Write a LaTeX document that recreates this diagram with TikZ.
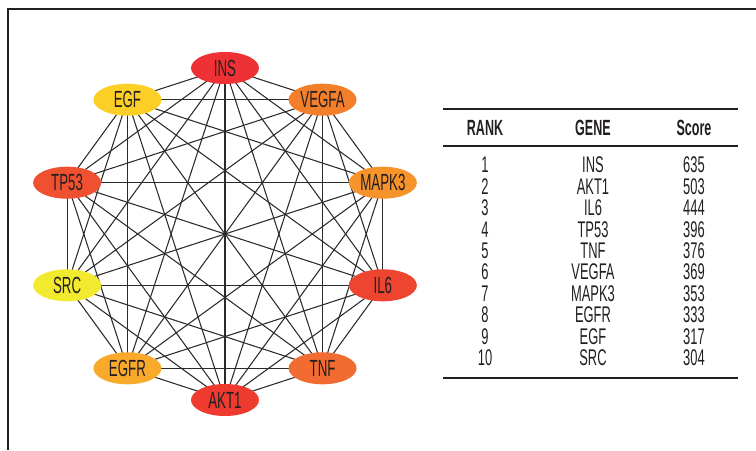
\documentclass[tikz,border=0pt]{standalone}
\usepackage{fontspec}
\setmainfont{Liberation Sans}[FakeStretch=0.57]
\usepackage{xcolor}
\usepackage{tikz}
\usetikzlibrary{shapes.geometric,backgrounds}

\definecolor{inkgray}{HTML}{231F20}
\definecolor{edgegray}{HTML}{2B2B2B}
\definecolor{cINS}{HTML}{EE3134}
\definecolor{cAKT}{HTML}{EE3A2F}
\definecolor{cIL}{HTML}{EE4530}
\definecolor{cTP}{HTML}{EF502F}
\definecolor{cTNF}{HTML}{F26B30}
\definecolor{cVEG}{HTML}{F47F2A}
\definecolor{cMAP}{HTML}{F7932B}
\definecolor{cEGR}{HTML}{FAAA2B}
\definecolor{cEGF}{HTML}{FCCF26}
\definecolor{cSRC}{HTML}{F2EA2E}

\tikzset{
  gene/.style={ellipse, inner sep=0pt, minimum width=51pt, minimum height=24pt,
    text=inkgray, font=\fontsize{17.5}{20}\selectfont},
  link/.style={edgegray, line width=0.8pt},
  cell/.style={inner sep=0pt, text=inkgray, font=\fontsize{17}{19}\selectfont},
  head/.style={cell, font=\fontsize{16.5}{19}\selectfont\bfseries},
  rule/.style={inkgray, line width=1.6pt}
}

\begin{document}
\begin{tikzpicture}[x=0.75pt, y=-0.75pt]
  \useasboundingbox (0,0) rectangle (756,450);
  \draw [inkgray, line width=0.9pt] (8,450) -- (8,9) -- (756,9);

  % network
  \foreach \name/\ang/\col [count=\i] in {INS/90/cINS, VEGFA/54/cVEG,
      MAPK3/18/cMAP, IL6/-18/cIL, TNF/-54/cTNF, AKT1/-90/cAKT,
      EGFR/-126/cEGR, SRC/-162/cSRC, TP53/162/cTP, EGF/126/cEGF}
    \node [gene, fill=\col] (g\i) at ({225+166*cos(\ang)}, {234-166*sin(\ang)}) {\name};
  \begin{pgfonlayer}{background}
    \foreach \i in {1,...,9} {
      \pgfmathtruncatemacro\nxt{\i+1}
      \foreach \j in {\nxt,...,10}
        \draw [link] (g\i.center) -- (g\j.center);
    }
  \end{pgfonlayer}

  % table
  \draw [rule] (443,109) -- (738,109);
  \draw [rule] (443,146) -- (738,146);
  \draw [rule] (443,378) -- (738,378);
  \node [head] (hrank) at (485,128) {RANK};
  \node [head] (hgene) at (593,128) {GENE};
  \node [head] (hscore) at (694,128) {Score};
  \foreach \r/\g/\s in {1/INS/635, 2/AKT1/503, 3/IL6/444, 4/TP53/396,
      5/TNF/376, 6/VEGFA/369, 7/MAPK3/353, 8/EGFR/333, 9/EGF/317, 10/SRC/304} {
    \node [cell] (rank\r) at (485, {143.6+21.4*\r}) {\r};
    \node [cell] (gene\r) at (593, {143.6+21.4*\r}) {\g};
    \node [cell] (score\r) at (694, {143.6+21.4*\r}) {\s};
  }
\end{tikzpicture}
\end{document}
